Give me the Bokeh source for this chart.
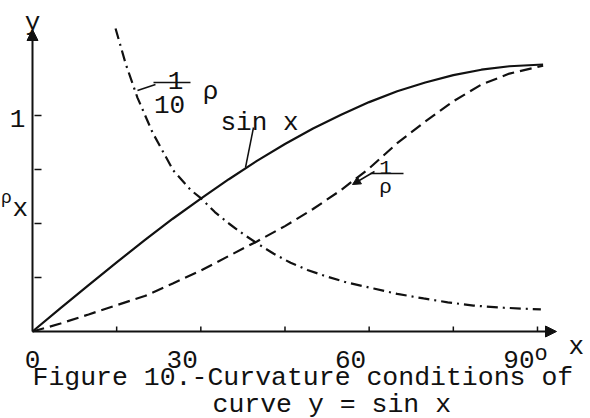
from bokeh.plotting import figure
from bokeh.models import Range1d, Arrow, NormalHead
from bokeh.core.properties import value
from bokeh.embed import file_html
from bokeh.resources import INLINE

# ---------------- data (x in degrees) ----------------
sin_deg = [0, 5, 10, 15, 20, 25, 30, 35, 40, 45, 50, 55, 60, 65, 70, 75, 80, 85, 91]
sin_val = [0, 0.108, 0.215, 0.32, 0.423, 0.522, 0.615, 0.705, 0.79, 0.868, 0.94,
           1.003, 1.062, 1.112, 1.153, 1.187, 1.212, 1.228, 1.236]

inv_rho_deg = [0, 5, 10, 15, 20, 25, 30, 35, 40, 45, 50, 55, 60, 65, 70, 75, 80, 85, 91]
inv_rho_val = [0, 0.037, 0.079, 0.122, 0.164, 0.222, 0.282, 0.35, 0.417, 0.488, 0.567,
               0.655, 0.755, 0.872, 0.972, 1.066, 1.143, 1.194, 1.231]

rho10_deg = [14.8, 16.6, 18.7, 21.4, 25.1, 28.2, 30, 32.5, 35, 37.5, 40.1, 43, 46, 49,
             51.9, 56, 60.8, 65, 69.7, 74, 78.6, 84, 90.6]
rho10_val = [1.403, 1.24, 1.083, 0.921, 0.745, 0.655, 0.617, 0.553, 0.5, 0.452, 0.407,
             0.36, 0.318, 0.285, 0.259, 0.227, 0.199, 0.174, 0.153, 0.135, 0.12, 0.11, 0.102]

x_ticks = [15, 30, 45, 60, 75, 90]
y_ticks = [0.25, 0.5, 0.75, 1.0]
x_tick_label_pos = [30, 60, 90]
x_tick_labels = ["30", "60", "90"]
zero_label = "0"
y_tick_labels = ["1"]

caption_1 = "Figure 10.-Curvature conditions of"
caption_2 = "curve y = sin x"

# ---------------- geometry ----------------
W, H = 590, 418
PX_PER_DEG = 5.611
PX_PER_UNIT = 216.0
OX, OY = 32, 331  # canvas position of the origin


def X(px):
    return (px - OX) / PX_PER_DEG


def Y(py):
    return (OY - py) / PX_PER_UNIT


p = figure(width=W, height=H,
           x_range=Range1d(X(0), X(W)), y_range=Range1d(Y(H), Y(0)),
           x_axis_type=None, y_axis_type=None,
           output_backend="svg", toolbar_location=None,
           min_border=0, outline_line_color=None,
           background_fill_color="white", border_fill_color="white")

FONT = value("Liberation Mono")
INK = "#111111"

# axes with arrows
p.add_layout(Arrow(end=NormalHead(size=11, fill_color=INK, line_color=INK),
                   x_start=0, y_start=0, x_end=X(556), y_end=0,
                   line_color=INK, line_width=2))
p.add_layout(Arrow(end=NormalHead(size=11, fill_color=INK, line_color=INK),
                   x_start=0, y_start=0, x_end=0, y_end=Y(29),
                   line_color=INK, line_width=2))

# ticks
p.segment(x0=x_ticks, y0=[0] * len(x_ticks), x1=x_ticks,
          y1=[5 / PX_PER_UNIT] * len(x_ticks), line_color=INK, line_width=1.5)
p.segment(x0=[2 / PX_PER_DEG] * len(y_ticks), y0=y_ticks,
          x1=[9 / PX_PER_DEG] * len(y_ticks), y1=y_ticks, line_color=INK, line_width=1.5)

# curves
p.line(sin_deg, sin_val, line_color=INK, line_width=2.2, line_join="round")
p.line(inv_rho_deg, inv_rho_val, line_color=INK, line_width=2.2, line_dash="12 6")
p.line(rho10_deg, rho10_val, line_color=INK, line_width=2.2, line_dash="11 5 2 5")


def txt(xs, ys, texts, size="26px", align="left", xoff=0):
    p.text(x=xs, y=ys, text=texts, text_font=FONT, text_font_size=value(size),
           text_align=align, text_baseline="alphabetic", text_color=INK, x_offset=xoff)


# tick labels
txt([0], [Y(359)], [zero_label], align="center")
txt(x_tick_label_pos, [Y(359)] * len(x_tick_label_pos), x_tick_labels, align="right", xoff=-3)
txt([X(534)], [Y(354)], ["o"], size="22px")
txt([X(17)], [Y(118)], y_tick_labels, align="center")
# axis names
txt([X(568)], [Y(346)], ["x"])
txt([0], [Y(22)], ["y"], align="center")
txt([X(6)], [Y(197)], ["ρ"], size="18px", align="center")
txt([X(12)], [Y(208)], ["x"])

# curve labels
txt([X(175)], [Y(80)], ["1"], align="center")
txt([X(169)], [Y(104)], ["10"], align="center")
p.segment(x0=[X(153)], y0=[Y(82)], x1=[X(190)], y1=[Y(82)], line_color=INK, line_width=1.5)
txt([X(210)], [Y(91)], ["ρ"], align="center")
p.segment(x0=[X(137)], y0=[Y(90)], x1=[X(155)], y1=[Y(84)], line_color=INK, line_width=1.5)

txt([X(220)], [Y(122)], ["sin x"])
p.segment(x0=[X(253)], y0=[Y(127)], x1=[X(245)], y1=[Y(167)], line_color=INK, line_width=1.5)

txt([X(385)], [Y(167)], ["1"], size="21px", align="center")
p.segment(x0=[X(370)], y0=[Y(173)], x1=[X(403)], y1=[Y(173)], line_color=INK, line_width=1.5)
txt([X(385)], [Y(187)], ["ρ"], size="21px", align="center")
p.add_layout(Arrow(end=NormalHead(size=8, fill_color=INK, line_color=INK),
                   x_start=X(374), y_start=Y(171), x_end=X(352), y_end=Y(184),
                   line_color=INK, line_width=1.5))

# caption
txt([X(32)], [Y(377)], [caption_1], size="26.5px")
txt([X(212)], [Y(404)], [caption_2], size="26.5px")

open("out.html", "w").write(file_html(p, INLINE))
